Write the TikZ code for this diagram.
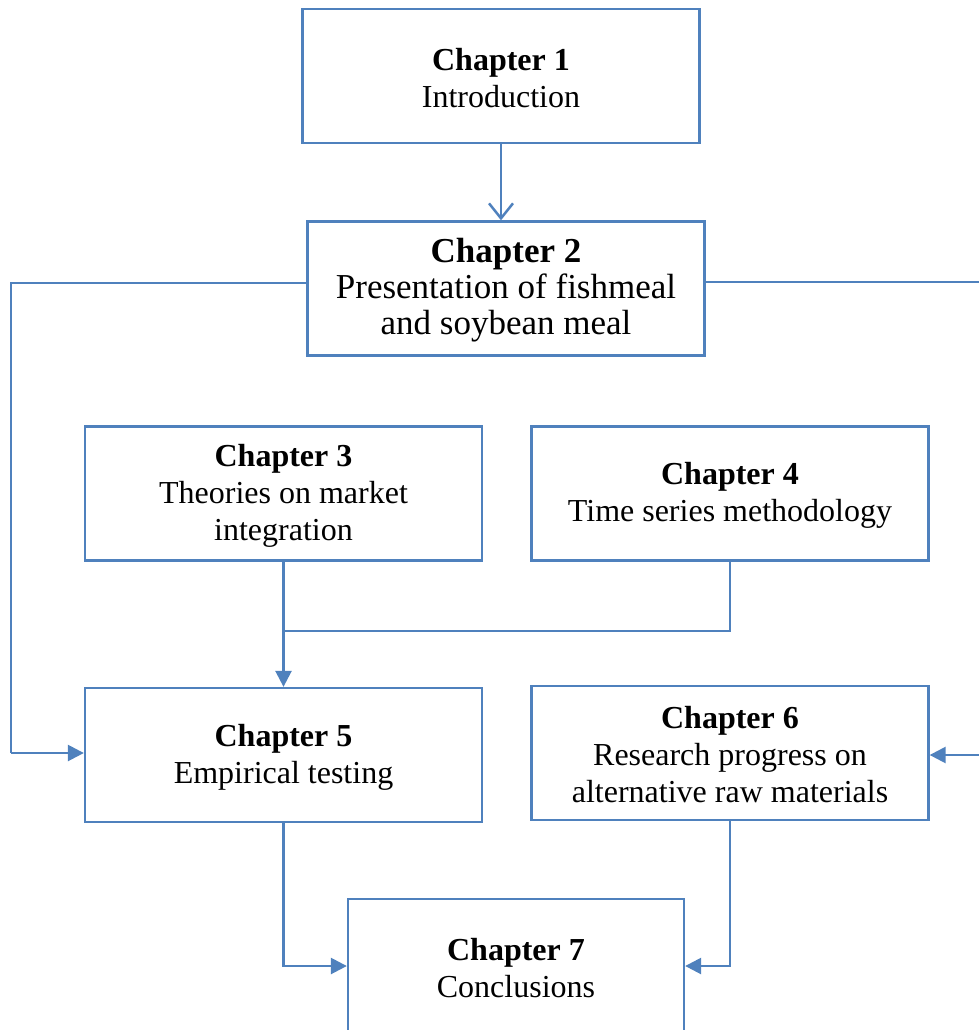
\documentclass[tikz,border=0pt]{standalone}
\usepackage{fontspec}
\setmainfont{Liberation Serif}
\usetikzlibrary{arrows.meta}
\definecolor{lineblue}{HTML}{4F81BD}
\tikzset{
  chbox/.style={draw=lineblue, line width=2.3pt, rectangle, inner sep=0pt,
    minimum width=397pt, minimum height=134pt},
  chtext/.style={align=center, inner sep=0pt, font=\fontsize{32}{37}\selectfont},
  conn/.style={draw=lineblue, line width=2.5pt},
  filltip/.style={-{Triangle[length=16pt,width=16pt]}},
  opentip/.style={-{Straight Barb[length=15pt,width=24pt]}}
}
\begin{document}
\begin{tikzpicture}[x=1pt,y=-1pt]
\useasboundingbox (0,0) rectangle (979,1030);
\clip (0,0) rectangle (979,1030);
\node[chbox] (c1) at (501,76) {};
\node[chbox] (c2) at (506,288.5) {};
\node[chbox] (c3) at (283.5,493.5) {};
\node[chbox] (c4) at (730,493.5) {};
\node[chbox] (c5) at (283.5,755) {};
\node[chbox] (c6) at (730,753) {};
\node[chbox, minimum width=336pt] (c7) at (516,966) {};
\node[chtext] (t1) at ([yshift=-2pt]c1.center) {\textbf{Chapter 1}\\Introduction};
\node[chtext, font=\fontsize{35}{36}\selectfont] (t2) at ([yshift=-2pt]c2.center) {\textbf{Chapter 2}\\Presentation of fishmeal\\and soybean meal};
\node[chtext] (t3) at ([yshift=-2pt]c3.center) {\textbf{Chapter 3}\\Theories on market\\integration};
\node[chtext] (t4) at ([yshift=-2pt]c4.center) {\textbf{Chapter 4}\\Time series methodology};
\node[chtext] (t5) at ([yshift=-2pt]c5.center) {\textbf{Chapter 5}\\Empirical testing};
\node[chtext] (t6) at ([yshift=-2pt]c6.center) {\textbf{Chapter 6}\\Research progress on\\alternative raw materials};
\node[chtext] (t7) at ([yshift=-2pt]c7.center) {\textbf{Chapter 7}\\Conclusions};
\coordinate (lft) at (11,753);
\coordinate (rgt) at (990,755);
\draw[conn] ([yshift=5.5pt]c2.west) -| (lft);
\draw[conn, filltip] (lft) -- (lft -| c5.west);
\draw[conn] ([yshift=6.5pt]c2.east) -| (rgt);
\draw[conn, filltip] (rgt) -- (rgt -| c6.east);
\draw[conn, opentip] (c1.south) -- (c2.north -| c1.south);
\draw[conn, filltip] (c3.south) -- (c5.north);
\draw[conn] (c4.south) |- (284,631);
\draw[conn, filltip] (c5.south) |- (c7.west);
\draw[conn, filltip] (c6.south) |- (c7.east);
\end{tikzpicture}
\end{document}
